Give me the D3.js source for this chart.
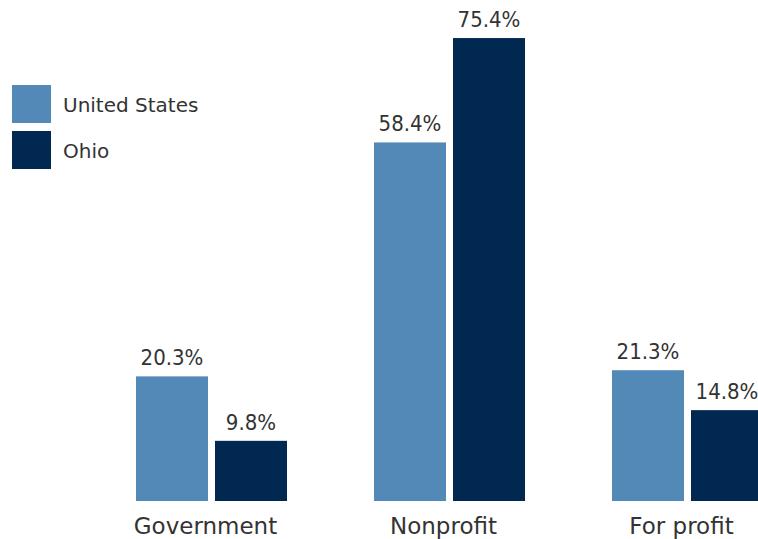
<!DOCTYPE html>
<html>
<head>
<meta charset="utf-8">
<script src="https://cdn.jsdelivr.net/npm/d3@7"></script>
<style>
  html, body { margin: 0; padding: 0; background: #fff; overflow: hidden; }
  svg { display: block; }
</style>
</head>
<body>
<svg id="chart" width="758" height="539"></svg>
<script>
const categories = ["Government", "Nonprofit", "For profit"];
const seriesNames = ["United States", "Ohio"];
const usValues = [20.3, 58.4, 21.3];
const ohioValues = [9.8, 75.4, 14.8];
const colors = ["#5289B6", "#012851"];

const seriesValues = [usValues, ohioValues];
const data = categories.map((c, i) => ({
  category: c,
  values: seriesNames.map((s, j) => ({ series: s, value: seriesValues[j][i], color: colors[j] }))
}));

const svg = d3.select("#chart");
const baseY = 501;

const x0 = d3.scaleBand().domain(categories).range([92.5, 806.5])
  .paddingInner(0.3655).paddingOuter(0.3655 / 2);
const x1 = d3.scaleBand().domain(seriesNames).range([0, x0.bandwidth()]).paddingInner(7 / 79);
const y = d3.scaleLinear().domain([0, 80]).range([baseY, baseY - 80 * 6.14]);

const groups = svg.selectAll("g.grp").data(data).join("g")
  .attr("class", "grp")
  .attr("transform", d => `translate(${x0(d.category)},0)`);

groups.selectAll("rect").data(d => d.values).join("rect")
  .attr("x", d => x1(d.series))
  .attr("y", d => y(d.value))
  .attr("width", x1.bandwidth())
  .attr("height", d => y(0) - y(d.value))
  .attr("fill", d => d.color);

groups.selectAll("text.val").data(d => d.values).join("text")
  .attr("class", "val")
  .attr("x", d => x1(d.series) + x1.bandwidth() / 2)
  .attr("y", d => y(d.value) - 11)
  .attr("text-anchor", "middle")
  .attr("font-family", "'Liberation Sans Narrow', 'DejaVu Sans Condensed', sans-serif")
  .attr("font-size", 22)
  .attr("fill", "#333")
  .text(d => d.value.toFixed(1) + "%");

// category axis labels
const xAxis = d3.axisBottom(x0).tickSize(0).tickPadding(0);
const axisG = svg.append("g").attr("transform", `translate(-6,${baseY + 17})`).call(xAxis);
axisG.select(".domain").remove();
axisG.selectAll("text")
  .attr("font-family", "'DejaVu Sans', sans-serif")
  .attr("font-size", 23)
  .attr("fill", "#333")
  .attr("dy", "0.71em");

// legend
const legend = svg.append("g").attr("transform", "translate(12,85)");
const li = legend.selectAll("g").data(seriesNames).join("g")
  .attr("transform", (d, i) => `translate(0,${i * 46})`);
li.append("rect").attr("width", 39).attr("height", 38).attr("fill", (d, i) => colors[i]);
li.append("text")
  .attr("x", 51).attr("y", 27)
  .attr("font-family", "'DejaVu Sans', sans-serif")
  .attr("font-size", 20)
  .attr("fill", "#333")
  .text(d => d);
</script>
</body>
</html>
